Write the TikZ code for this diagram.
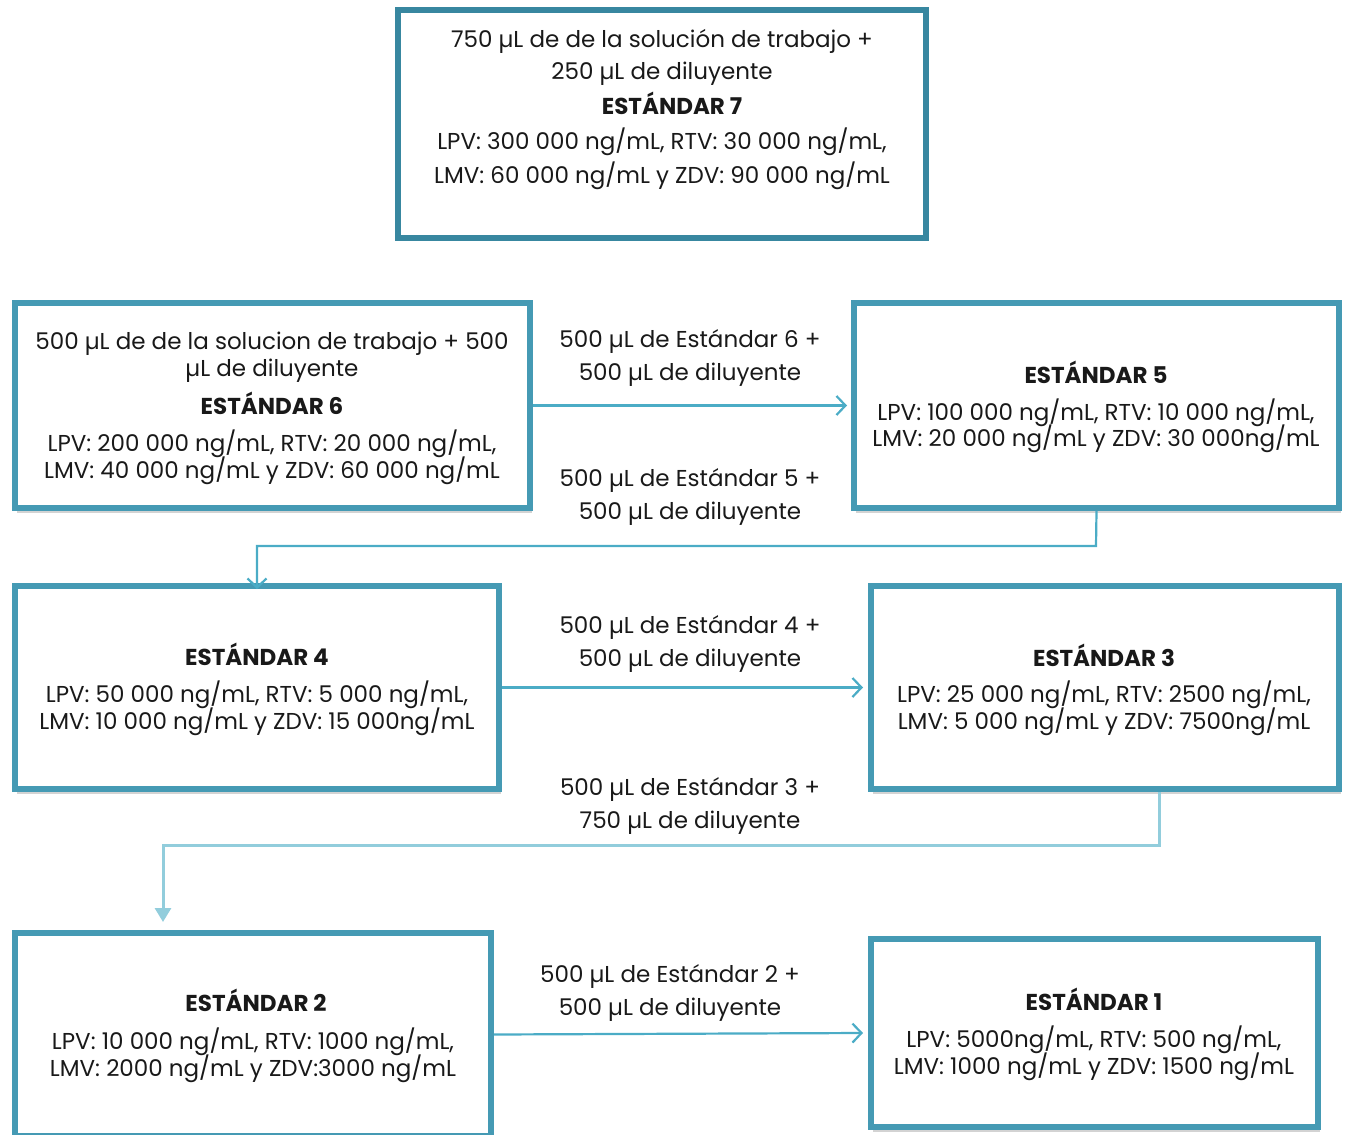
\documentclass[tikz,border=0pt]{standalone}
\usepackage{fontspec}
\setmainfont{Poppins}
\usetikzlibrary{arrows.meta,shadows}
\definecolor{boxc}{RGB}{69,154,180}
\definecolor{topc}{RGB}{56,135,160}
\definecolor{arrc}{RGB}{75,172,198}
\definecolor{arrl}{RGB}{146,205,220}
\tikzset{
  boxbase/.style={draw=boxc, line width=6pt, fill=white, rectangle, inner sep=0pt},
  boxsh/.style={boxbase, drop shadow={shadow xshift=2pt, shadow yshift=-5pt, opacity=0.35, fill=black!50}},
  txt/.style={inner sep=0pt, yshift=-2pt, font=\fontsize{23}{26}\selectfont, text=black!90},
  btxt/.style={inner sep=0pt, yshift=2pt, font=\fontsize{23}{26}\selectfont\bfseries, text=black!90},
  arr/.style={draw=arrc, line width=2.2pt, -{Straight Barb[length=9pt,width=19pt,line width=2.2pt]}},
  arrb/.style={draw=arrl, line width=3pt, -{Triangle[length=14pt,width=16pt]}},
}
\begin{document}
\begin{tikzpicture}[x=1pt,y=-1pt]
\useasboundingbox (0,0) rectangle (1347,1135);
% boxes
\node[boxbase, draw=topc, minimum width=528pt, minimum height=228pt] (b7) at (662,124) {};
\node[boxsh, minimum width=515pt, minimum height=205pt] (b6) at (272.5,405.5) {};
\node[boxsh, minimum width=485pt, minimum height=205pt] (b5) at (1096.5,405.5) {};
\node[boxsh, minimum width=484pt, minimum height=203pt] (b4) at (257,687.5) {};
\node[boxsh, minimum width=468pt, minimum height=203pt] (b3) at (1105,687.5) {};
\node[boxsh, minimum width=476pt, minimum height=203pt] (b2) at (253,1034.5) {};
\node[boxsh, minimum width=447pt, minimum height=188pt] (b1) at (1094.5,1033) {};
% box 7 text
\node[txt] (t7a) at (662,39) {750 µL de de la solución de trabajo +};
\node[txt] (t7b) at (662,72) {250 µL de diluyente};
\node[btxt] (t7c) at (672,105) {ESTÁNDAR 7};
\node[txt] (t7d) at (662,140) {LPV: 300 000 ng/mL, RTV: 30 000 ng/mL,};
\node[txt] (t7e) at (662,174) {LMV: 60 000 ng/mL y ZDV: 90 000 ng/mL};
% box 6 text
\node[txt] (t6a) at (272,342) {500 µL de de la solucion de trabajo + 500};
\node[txt] (t6b) at (272,369) {µL de diluyente};
\node[btxt] (t6c) at (272,405) {ESTÁNDAR 6};
\node[txt] (t6d) at (272,442) {LPV: 200 000 ng/mL, RTV: 20 000 ng/mL,};
\node[txt] (t6e) at (272,469) {LMV: 40 000 ng/mL y ZDV: 60 000 ng/mL};
% box 5 text
\node[btxt] (t5a) at (1096,374) {ESTÁNDAR 5};
\node[txt] (t5b) at (1096,411) {LPV: 100 000 ng/mL, RTV: 10 000 ng/mL,};
\node[txt] (t5c) at (1096,437) {LMV: 20 000 ng/mL y ZDV: 30 000ng/mL};
% box 4 text
\node[btxt] (t4a) at (257,656) {ESTÁNDAR 4};
\node[txt] (t4b) at (257,693) {LPV: 50 000 ng/mL, RTV: 5 000 ng/mL,};
\node[txt] (t4c) at (257,720) {LMV: 10 000 ng/mL y ZDV: 15 000ng/mL};
% box 3 text
\node[btxt] (t3a) at (1104,657) {ESTÁNDAR 3};
\node[txt] (t3b) at (1104,693) {LPV: 25 000 ng/mL, RTV: 2500 ng/mL,};
\node[txt] (t3c) at (1104,720) {LMV: 5 000 ng/mL y ZDV: 7500ng/mL};
% box 2 text
\node[btxt] (t2a) at (256,1002) {ESTÁNDAR 2};
\node[txt] (t2b) at (253,1040) {LPV: 10 000 ng/mL, RTV: 1000 ng/mL,};
\node[txt] (t2c) at (253,1067) {LMV: 2000 ng/mL y ZDV:3000 ng/mL};
% box 1 text
\node[btxt] (t1a) at (1094,1001) {ESTÁNDAR 1};
\node[txt] (t1b) at (1094,1038) {LPV: 5000ng/mL, RTV: 500 ng/mL,};
\node[txt] (t1c) at (1094,1065) {LMV: 1000 ng/mL y ZDV: 1500 ng/mL};
% connector labels
\node[txt] (l65a) at (690,339) {500 µL de Estándar 6 +};
\node[txt] (l65b) at (690,373) {500 µL de diluyente};
\node[txt] (l54a) at (690,478) {500 µL de Estándar 5 +};
\node[txt] (l54b) at (690,512) {500 µL de diluyente};
\node[txt] (l43a) at (690,625) {500 µL de Estándar 4 +};
\node[txt] (l43b) at (690,659) {500 µL de diluyente};
\node[txt] (l32a) at (690,787) {500 µL de Estándar 3 +};
\node[txt] (l32b) at (690,821) {750 µL de diluyente};
\node[txt] (l21a) at (670,974) {500 µL de Estándar 2 +};
\node[txt] (l21b) at (670,1008) {500 µL de diluyente};
% connectors
\coordinate (c54) at (1096,546);
\coordinate (c32) at (1159,845);
\coordinate (c2) at (163,922);
\draw[arr] (b6.east) -- ([xshift=-4pt]b5.west);
\draw[arr] (b5.south) -- (c54) -- (c54 -| b4.north) -- ([yshift=-6pt]b4.north);
\draw[arr] (b4.east) -- ([xshift=-5pt]b3.west);
\draw[arrb] (c32 |- b3.south) -- (c32) -- (c32 -| c2) -- (c2);
\draw[arr] (b2.east) -- ([xshift=-5pt]b1.west);
\end{tikzpicture}
\end{document}
